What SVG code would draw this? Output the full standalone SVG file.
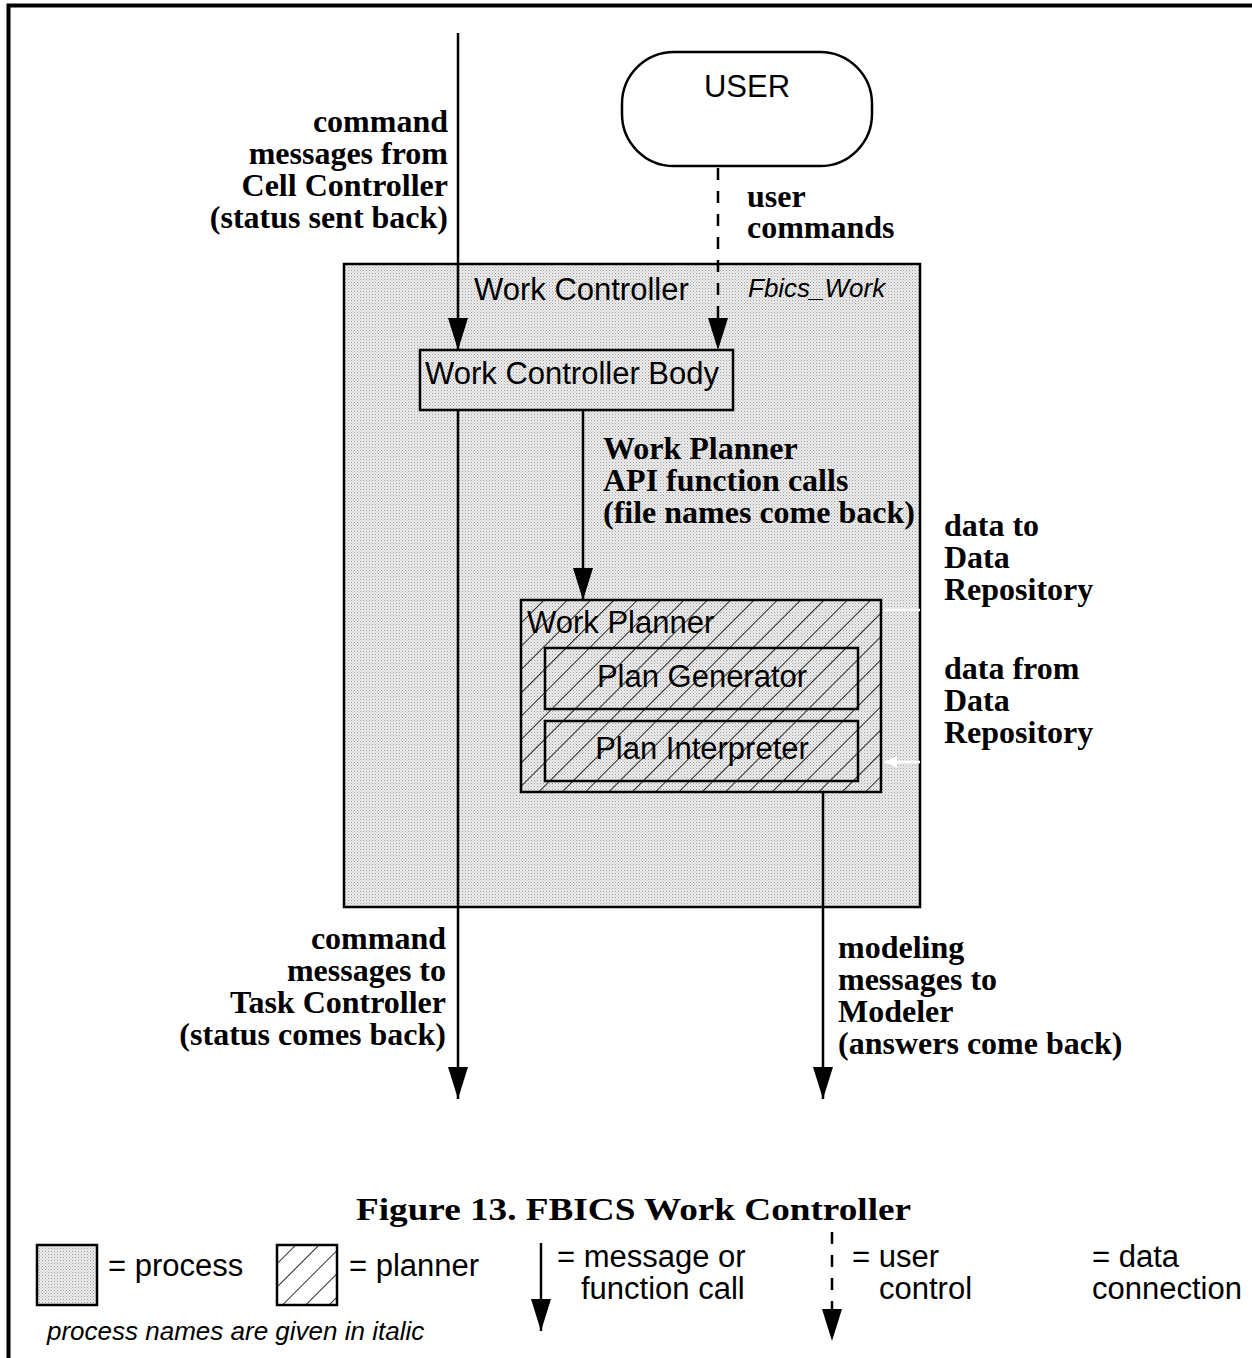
<svg xmlns="http://www.w3.org/2000/svg" width="1252" height="1358" viewBox="0 0 1252 1358">
<defs>
<pattern id="dots" width="3" height="3" patternUnits="userSpaceOnUse">
<rect width="3" height="3" fill="#ececec"/>
<rect x="0" y="0" width="1" height="1" fill="#a0a0a0"/>
<rect x="1.5" y="1.5" width="1" height="1" fill="#b8b8b8"/>
</pattern>
<pattern id="hatch" width="16.5" height="16.5" patternUnits="userSpaceOnUse" patternTransform="rotate(45)">
<line x1="0" y1="0" x2="0" y2="16.5" stroke="#000" stroke-width="1.6"/>
</pattern>
<marker id="arr" markerWidth="32" markerHeight="20" refX="32" refY="10" orient="auto" markerUnits="userSpaceOnUse" viewBox="0 0 32 20">
<polygon points="0,0 32,10 0,20" fill="#000"/>
</marker>
<marker id="warr" markerWidth="12" markerHeight="12" refX="0" refY="6" orient="auto" markerUnits="userSpaceOnUse" viewBox="0 0 12 12">
<polygon points="0,6 12,0 12,12" fill="#fff"/>
</marker>
</defs>
<style>
.sans{font-family:"Liberation Sans",Arial,sans-serif;font-size:31px;fill:#000}
.it{font-family:"Liberation Sans",Arial,sans-serif;font-style:italic;fill:#000}
.lbl{font-family:"Liberation Serif","Times New Roman",serif;font-weight:bold;font-size:32px;fill:#000}
.box{stroke:#000;stroke-width:2.5}
.conn{stroke:#000;stroke-width:2.5;fill:none}
.dash{stroke-dasharray:12 11}
</style>
<rect width="1252" height="1358" fill="#fff"/>
<path d="M8.5,1358 V5.5 H1252" fill="none" stroke="#000" stroke-width="4"/>

<g id="work-controller">
<rect class="box" x="344" y="264" width="576" height="643" fill="url(#dots)"/>
<text class="sans" x="474" y="300">Work Controller</text>
<text class="it" x="748" y="297" font-size="26">Fbics_Work</text>
</g>

<g id="user">
<rect class="box" x="622" y="52" width="250" height="114" rx="52" fill="#fff"/>
<text class="sans" x="747" y="97" text-anchor="middle">USER</text>
</g>

<g id="work-controller-body">
<rect class="box" x="420" y="350" width="313" height="60" fill="url(#dots)"/>
<text class="sans" x="425" y="384">Work Controller Body</text>
</g>

<g id="work-planner">
<rect x="521" y="600" width="360" height="192" fill="url(#dots)"/>
<rect class="box" x="521" y="600" width="360" height="192" fill="url(#hatch)"/>
<text class="sans" x="527" y="633">Work Planner</text>
</g>

<g id="plan-generator">
<rect class="box" x="545" y="648" width="313" height="61" fill="none"/>
<text class="sans" x="702" y="687" text-anchor="middle">Plan Generator</text>
</g>

<g id="plan-interpreter">
<rect class="box" x="545" y="721" width="313" height="60" fill="none"/>
<text class="sans" x="702" y="759" text-anchor="middle">Plan Interpreter</text>
</g>

<g id="connectors">
<line class="conn" x1="458" y1="33" x2="458" y2="350" marker-end="url(#arr)"/>
<line class="conn dash" x1="718" y1="168" x2="718" y2="350" marker-end="url(#arr)"/>
<line class="conn" x1="458" y1="410" x2="458" y2="1099" marker-end="url(#arr)"/>
<line class="conn" x1="583" y1="410" x2="583" y2="600" marker-end="url(#arr)"/>
<line class="conn" x1="823" y1="792" x2="823" y2="1099" marker-end="url(#arr)"/>
<line x1="883" y1="610" x2="920" y2="610" stroke="#fff" stroke-width="2.5"/>
<line x1="885" y1="762" x2="920" y2="762" stroke="#fff" stroke-width="2.5" marker-start="url(#warr)"/>
</g>

<g id="labels">
<text class="lbl" text-anchor="end"><tspan x="448" y="132">command</tspan><tspan x="448" y="164">messages from</tspan><tspan x="448" y="196">Cell Controller</tspan><tspan x="448" y="228">(status sent back)</tspan></text>
<text class="lbl"><tspan x="747" y="207">user</tspan><tspan x="747" y="238">commands</tspan></text>
<text class="lbl"><tspan x="603" y="459">Work Planner</tspan><tspan x="603" y="491">API function calls</tspan><tspan x="603" y="523">(file names come back)</tspan></text>
<text class="lbl"><tspan x="944" y="536">data to</tspan><tspan x="944" y="568">Data</tspan><tspan x="944" y="600">Repository</tspan></text>
<text class="lbl"><tspan x="944" y="679">data from</tspan><tspan x="944" y="711">Data</tspan><tspan x="944" y="743">Repository</tspan></text>
<text class="lbl" text-anchor="end"><tspan x="446" y="949">command</tspan><tspan x="446" y="981">messages to</tspan><tspan x="446" y="1013">Task Controller</tspan><tspan x="446" y="1045">(status comes back)</tspan></text>
<text class="lbl"><tspan x="838" y="958">modeling</tspan><tspan x="838" y="990">messages to</tspan><tspan x="838" y="1022">Modeler</tspan><tspan x="838" y="1054">(answers come back)</tspan></text>
<text class="lbl" x="356" y="1220" font-size="40" textLength="555" lengthAdjust="spacingAndGlyphs">Figure 13. FBICS Work Controller</text>
</g>

<g id="legend">
<rect class="box" x="37" y="1245" width="60" height="60" fill="url(#dots)"/>
<text class="sans" x="108" y="1276">= process</text>
<rect class="box" x="277" y="1245" width="60" height="60" fill="url(#hatch)"/>
<text class="sans" x="349" y="1276">= planner</text>
<text class="it" x="47" y="1340" font-size="26">process names are given in italic</text>
<line class="conn" x1="541" y1="1243" x2="541" y2="1331" marker-end="url(#arr)"/>
<text class="sans"><tspan x="557" y="1267">= message or</tspan><tspan x="581" y="1299">function call</tspan></text>
<line class="conn dash" x1="832" y1="1232" x2="832" y2="1341" marker-end="url(#arr)"/>
<text class="sans"><tspan x="852" y="1267">= user</tspan><tspan x="879" y="1299">control</tspan></text>
<text class="sans"><tspan x="1092" y="1267">= data</tspan><tspan x="1092" y="1299">connection</tspan></text>
</g>
</svg>
